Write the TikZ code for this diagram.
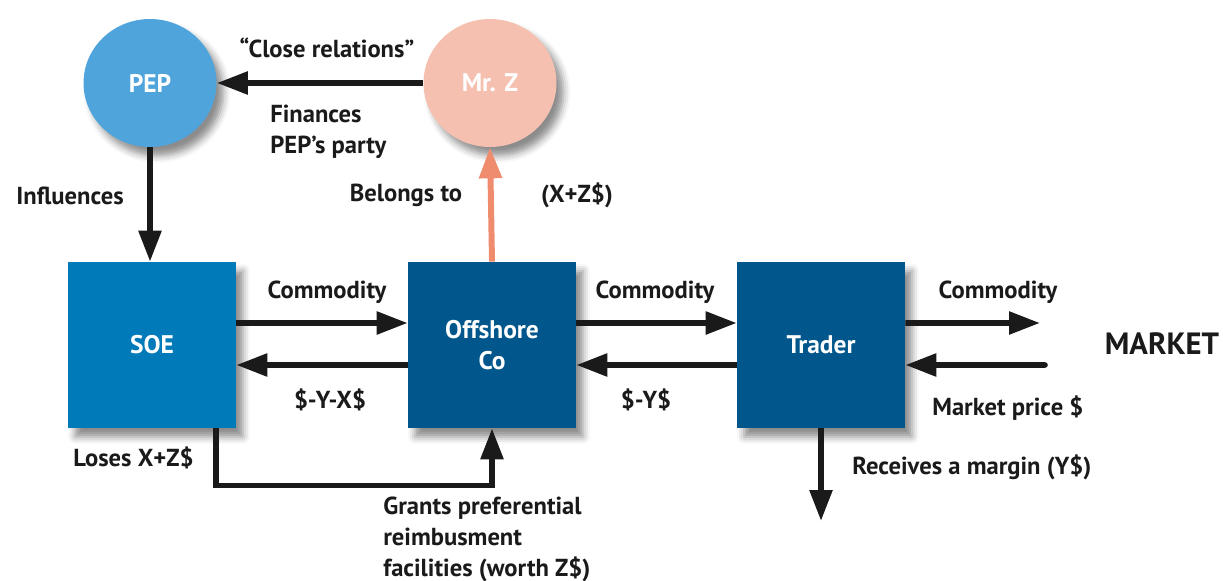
\documentclass[tikz,border=0pt]{standalone}
\usepackage{fontspec}
\setmainfont{PT Sans}
\usepackage{tikz}
\usetikzlibrary{arrows.meta,shapes.geometric,shadows.blur,calc}
\usetikzlibrary{positioning}
\definecolor{ink}{RGB}{26,26,26}
\definecolor{pepblue}{RGB}{80,164,220}
\definecolor{mrzpink}{RGB}{245,192,176}
\definecolor{belongs}{RGB}{240,140,110}
\definecolor{soeblue}{RGB}{0,122,184}
\definecolor{darkblue}{RGB}{1,87,140}
\tikzset{
  lbl/.style={font=\bfseries\fontsize{14}{17.5}\selectfont, text=ink, inner sep=0pt},
  party/.style={ellipse, minimum width=2.66cm, minimum height=2.56cm, inner sep=0pt,
    text=white, font=\bfseries\fontsize{14.5}{17}\selectfont,
    blur shadow={shadow xshift=4pt, shadow yshift=-5pt, shadow blur radius=4pt, shadow opacity=45}},
  firm/.style={rectangle, minimum width=3.36cm, minimum height=3.32cm, inner sep=0pt,
    text=white, align=center, font=\bfseries\fontsize{14.5}{18}\selectfont,
    blur shadow={shadow xshift=4pt, shadow yshift=-5pt, shadow blur radius=4pt, shadow opacity=45}},
  flow/.style={draw=ink, line width=3.2pt, -{Triangle[length=0.62cm, width=0.44cm]}}
}

\begin{document}
\begin{tikzpicture}[x=0.02cm, y=-0.02cm]
            \useasboundingbox (0,0) rectangle (1223,581);
            \node[party, fill=pepblue] at (150,83) (pep) {PEP};
            \node[party, fill=mrzpink] at (490,83) (mrz) {Mr. Z};
            \node[firm, fill=soeblue] at (152,345) (soe) {SOE};
            \node[firm, fill=darkblue] at (492,345) (off) {Offshore\\Co};
            \node[firm, fill=darkblue] at (821,345) (trader) {Trader};
            \coordinate (mktout) at (1040,323);
            \coordinate (mktin) at (1045,365);
            \coordinate (margin) at (821,521);
            \draw[flow] (mrz) -- (pep);
            \draw[flow] (pep.south) -- (pep.south |- soe.north);
            \draw[flow, draw=belongs, line width=3.4pt] (off.north) -- (mrz.south);
            \draw[flow] ([yshift=0.44cm]soe.east) -- ([yshift=0.44cm]off.west);
            \draw[flow] ([yshift=-0.4cm]off.west) -- ([yshift=-0.4cm]soe.east);
            \draw[flow] ([yshift=0.44cm]off.east) -- ([yshift=0.44cm]trader.west);
            \draw[flow] ([yshift=-0.4cm]trader.west) -- ([yshift=-0.4cm]off.east);
            \draw[flow] ([yshift=0.44cm]trader.east) -- (mktout);
            \draw[flow, line cap=round] (mktin) -- ([yshift=-0.4cm]trader.east);
            \draw[flow] (trader.south) -- (margin);
            \draw[flow] ([xshift=1.28cm]soe.south) -- ++(0,57) -| (off.south);
            \node[lbl] at (327,48) (close) {``Close relations''};
            \node[lbl, anchor=north west, align=left] at (270,105) (fin) {Finances\\PEP's party};
            \node[lbl] at (70,196) (infl) {Influences};
            \node[lbl] at (406,195) (belong) {Belongs to};
            \node[lbl] at (577,195) (xz) {(X+Z\$)};
            \node[lbl] at (327,292) (com1) {Commodity};
            \node[lbl] at (655,292) (com2) {Commodity};
            \node[lbl] at (998,292) (com3) {Commodity};
            \node[lbl] at (330,400) (pay1) {\$-Y-X\$};
            \node[lbl] at (646,400) (pay2) {\$-Y\$};
            \node[lbl, anchor=west] at (932,408) (price) {Market price \$};
            \node[lbl, font=\bfseries\fontsize{17.5}{20}\selectfont] at (1162,344) (market) {MARKET};
            \node[lbl, anchor=west] at (73,458) (loses) {Loses X+Z\$};
            \node[lbl, anchor=west] at (852,467) (recv) {Receives a margin (Y\$)};
            \node[lbl, anchor=north west, align=left] at (383,497) (grant) {Grants preferential\\reimbusment\\facilities (worth Z\$)};
        \end{tikzpicture}
\end{document}
